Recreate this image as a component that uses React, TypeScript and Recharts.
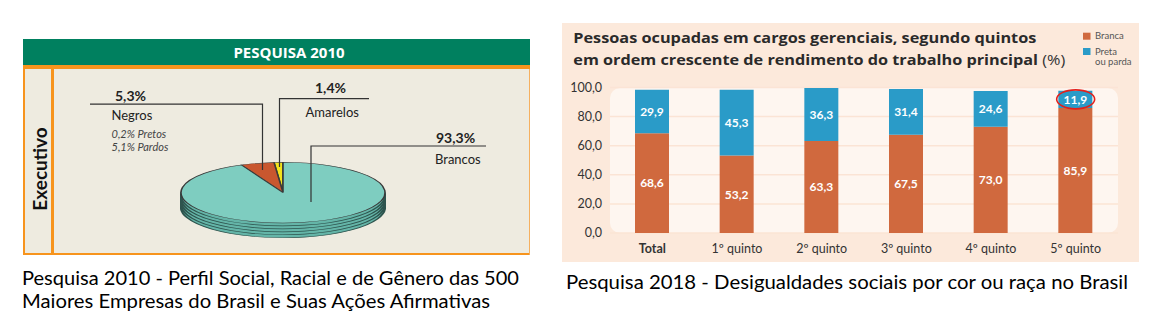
import React from 'react';
import {
  PieChart, Pie, Cell, BarChart, Bar, XAxis, YAxis, CartesianGrid, LabelList, ReferenceDot,
} from 'recharts';

// ---------- Left chart data (Pesquisa 2010) ----------
const pieNames = ['Amarelos', 'Negros', 'Brancos'];
const pieValues = [1.4, 5.3, 93.3];
const pieColors = ['#F4E31C', '#C9572F', '#7ECDC0'];
const negrosDetail = ['0,2% Pretos', '5,1% Pardos'];
const pieData = pieNames.map((n, i) => ({ name: n, value: pieValues[i] }));
const plateOffsets = [50, 40, 30, 20, 10];

// ---------- Right chart data (Pesquisa 2018) ----------
const categories = ['Total', '1º quinto', '2º quinto', '3º quinto', '4º quinto', '5º quinto'];
const branca = [68.6, 53.2, 63.3, 67.5, 73.0, 85.9];
const preta = [29.9, 45.3, 36.3, 31.4, 24.6, 11.9];
const yTicks = [0, 20, 40, 60, 80, 100];
const seriesNames = ['Branca', 'Preta', 'ou parda'];
const barData = categories.map((c, i) => ({ cat: c, branca: branca[i], preta: preta[i] }));
const highlightIndex = 5;

const fmt1 = (v: number) => Number(v).toFixed(1).replace('.', ',');
const pct = (v: number) => fmt1(v) + '%';

const ORANGE = '#D0693E';
const BLUE = '#2A9BC8';

const XTick = (props: any) => {
  const { x, y, payload } = props;
  const bold = payload.value === 'Total';
  return (
    <text x={x} y={y} dy={12} textAnchor="middle" fontFamily="Lato, sans-serif" fontSize={12.5}
      fontWeight={bold ? 700 : 400} fill="#333">{payload.value}</text>
  );
};

const RedEllipse = (props: any) => {
  const { cx, cy } = props;
  return <ellipse cx={cx} cy={cy} rx={19} ry={9.5} fill="none" stroke="#E3201B" strokeWidth={1.6} />;
};

export default function App() {
  return (
    <div style={{ position: 'absolute', left: 0, top: 0, width: 1152, height: 334, background: '#fff', overflow: 'hidden', fontFamily: 'Lato, sans-serif' }}>
      {/* ---------- LEFT PANEL ---------- */}
      <div style={{ position: 'absolute', left: 23, top: 39, width: 507, height: 26, background: '#00805F' }} />
      <div style={{ position: 'absolute', left: 23, top: 64.5, width: 507, height: 4, background: '#F7941D' }} />
      <div style={{ position: 'absolute', left: 23, top: 68.5, width: 507, height: 186, background: '#EEEBE0' }} />
      <div style={{ position: 'absolute', left: 23, top: 68.5, width: 2, height: 186, background: '#F7941D' }} />
      <div style={{ position: 'absolute', left: 51, top: 68.5, width: 2.5, height: 186, background: '#F7941D' }} />
      <div style={{ position: 'absolute', left: 23, top: 253, width: 507, height: 2, background: '#F7941D' }} />
      <div style={{ position: 'absolute', left: 529, top: 68.5, width: 1, height: 186, background: '#F5B060' }} />

      <div style={{ position: 'absolute', left: 180, top: 162.1, width: 206, height: 260, transform: 'scaleY(0.297)', transformOrigin: '0 0' }}>
        <PieChart width={206} height={260} margin={{ top: 0, right: 0, bottom: 0, left: 0 }}>
          {plateOffsets.map((off) => (
            <Pie key={off} data={pieData} dataKey="value" cx={103} cy={103 + off} outerRadius={102}
              startAngle={90} endAngle={450} fill="#64B5A8" stroke="#2E544E" strokeWidth={2.2}
              isAnimationActive={false} />
          ))}
          <Pie data={pieData} dataKey="value" cx={103} cy={103} outerRadius={102}
            startAngle={90} endAngle={450} stroke="#3A3A3A" strokeWidth={1.6} isAnimationActive={false}>
            {pieData.map((d, i) => <Cell key={d.name} fill={pieColors[i]} />)}
          </Pie>
        </PieChart>
      </div>

      <svg width={1152} height={334} style={{ position: 'absolute', left: 0, top: 0, pointerEvents: 'none' }}>
        <text x={289} y={58} textAnchor="middle" fill="#fff" fontFamily="'Open Sans', sans-serif" fontWeight={700} fontSize={15}>PESQUISA 2010</text>
        <text x={0} y={0} transform="translate(39,169) rotate(-90)" textAnchor="middle" dominantBaseline="central"
          fontFamily="Lato, sans-serif" fontWeight={700} fontSize={19} fill="#111">Executivo</text>

        {/* leader lines */}
        <polyline points="90,104.2 262.5,104.2 262.5,170" fill="none" stroke="#333" strokeWidth={1.2} />
        <polyline points="369,98.6 279.5,98.6 279.5,167" fill="none" stroke="#333" strokeWidth={1.2} />
        <polyline points="486,146 311,146 311,202" fill="none" stroke="#333" strokeWidth={1.2} />

        <text x={115} y={101} fontFamily="Lato, sans-serif" fontWeight={700} fontSize={14} fill="#222">{pct(pieValues[1])}</text>
        <text x={111.5} y={119.5} fontFamily="Lato, sans-serif" fontSize={13} fill="#222">{pieNames[1]}</text>
        <text x={111.5} y={138} fontFamily="Lato, sans-serif" fontStyle="italic" fontSize={11} fill="#444">{negrosDetail[0]}</text>
        <text x={111.5} y={151} fontFamily="Lato, sans-serif" fontStyle="italic" fontSize={11} fill="#444">{negrosDetail[1]}</text>

        <text x={315} y={92.5} fontFamily="Lato, sans-serif" fontWeight={700} fontSize={14} fill="#222">{pct(pieValues[0])}</text>
        <text x={305.6} y={116.5} fontFamily="Lato, sans-serif" fontSize={13} fill="#222">{pieNames[0]}</text>

        <text x={436} y={143} fontFamily="Lato, sans-serif" fontWeight={700} fontSize={14} fill="#222">{pct(pieValues[2])}</text>
        <text x={435} y={163.5} fontFamily="Lato, sans-serif" fontSize={13} fill="#222">{pieNames[2]}</text>

        {/* captions */}
        <text x={22} y={285} fontFamily="Lato, sans-serif" fontSize={18.5} fill="#000" textLength={497} lengthAdjust="spacingAndGlyphs">Pesquisa 2010 - Perfil Social, Racial e de Gênero das 500</text>
        <text x={22} y={308} fontFamily="Lato, sans-serif" fontSize={18.5} fill="#000" textLength={468} lengthAdjust="spacingAndGlyphs">Maiores Empresas do Brasil e Suas Ações Afirmativas</text>
        <text x={566} y={289} fontFamily="Lato, sans-serif" fontSize={18.5} fill="#000" textLength={562} lengthAdjust="spacingAndGlyphs">Pesquisa 2018 - Desigualdades sociais por cor ou raça no Brasil</text>
      </svg>

      {/* ---------- RIGHT PANEL ---------- */}
      <div style={{ position: 'absolute', left: 562, top: 23, width: 577, height: 239, background: '#FCE9DB' }} />
      <div style={{ position: 'absolute', left: 610, top: 87.5, width: 508, height: 145.5, background: '#FEF6F0', borderRadius: 10 }} />

      <div style={{ position: 'absolute', left: 560, top: 20 }}>
        <BarChart width={590} height={245} data={barData} margin={{ top: 67.5, right: 32, bottom: 7, left: 0 }}>
          <CartesianGrid horizontal vertical={false} stroke="#FBE4D5" strokeWidth={1.5} />
          <XAxis dataKey="cat" axisLine={false} tickLine={false} interval={0} height={25} tick={<XTick />} />
          <YAxis domain={[0, 100]} ticks={yTicks} axisLine={false} tickLine={false} width={50}
            tickFormatter={fmt1} tick={{ fontSize: 12.5, fill: '#333', fontFamily: 'Lato, sans-serif' }} />
          <Bar dataKey="branca" stackId="a" fill={ORANGE} barSize={34} isAnimationActive={false}>
            <LabelList dataKey="branca" position="center" formatter={(v: any) => fmt1(v)} fill="#fff"
              fontSize={12} fontWeight={700} fontFamily="Lato, sans-serif" />
          </Bar>
          <Bar dataKey="preta" stackId="a" fill={BLUE} barSize={34} isAnimationActive={false}>
            <LabelList dataKey="preta" position="center" formatter={(v: any) => fmt1(v)} fill="#fff"
              fontSize={12} fontWeight={700} fontFamily="Lato, sans-serif" />
          </Bar>
          <ReferenceDot x={categories[highlightIndex]} y={branca[highlightIndex] + preta[highlightIndex] / 2}
            shape={<RedEllipse />} ifOverflow="visible" />
        </BarChart>
      </div>

      <svg width={1152} height={334} style={{ position: 'absolute', left: 0, top: 0, pointerEvents: 'none' }}>
        <text x={573.3} y={43.3} fontFamily="'Open Sans', sans-serif" fontWeight={700} fontSize={15} fill="#2A2A2A"
          textLength={463} lengthAdjust="spacingAndGlyphs">Pessoas ocupadas em cargos gerenciais, segundo quintos</text>
        <text x={573.3} y={64.8} fontFamily="'Open Sans', sans-serif" fontWeight={700} fontSize={15} fill="#2A2A2A"
          textLength={492} lengthAdjust="spacingAndGlyphs">em ordem crescente de rendimento do trabalho principal <tspan fontWeight={400} fill="#333">(%)</tspan></text>

        <rect x={1083} y={32.7} width={7.5} height={7} fill={ORANGE} />
        <rect x={1083} y={48} width={7.5} height={7} fill={BLUE} />
        <text x={1095} y={39.3} fontFamily="Lato, sans-serif" fontSize={9.5} fill="#555">{seriesNames[0]}</text>
        <text x={1095} y={54.5} fontFamily="Lato, sans-serif" fontSize={9.5} fill="#555">{seriesNames[1]}</text>
        <text x={1095} y={64.8} fontFamily="Lato, sans-serif" fontSize={9.5} fill="#555">{seriesNames[2]}</text>
      </svg>
    </div>
  );
}
